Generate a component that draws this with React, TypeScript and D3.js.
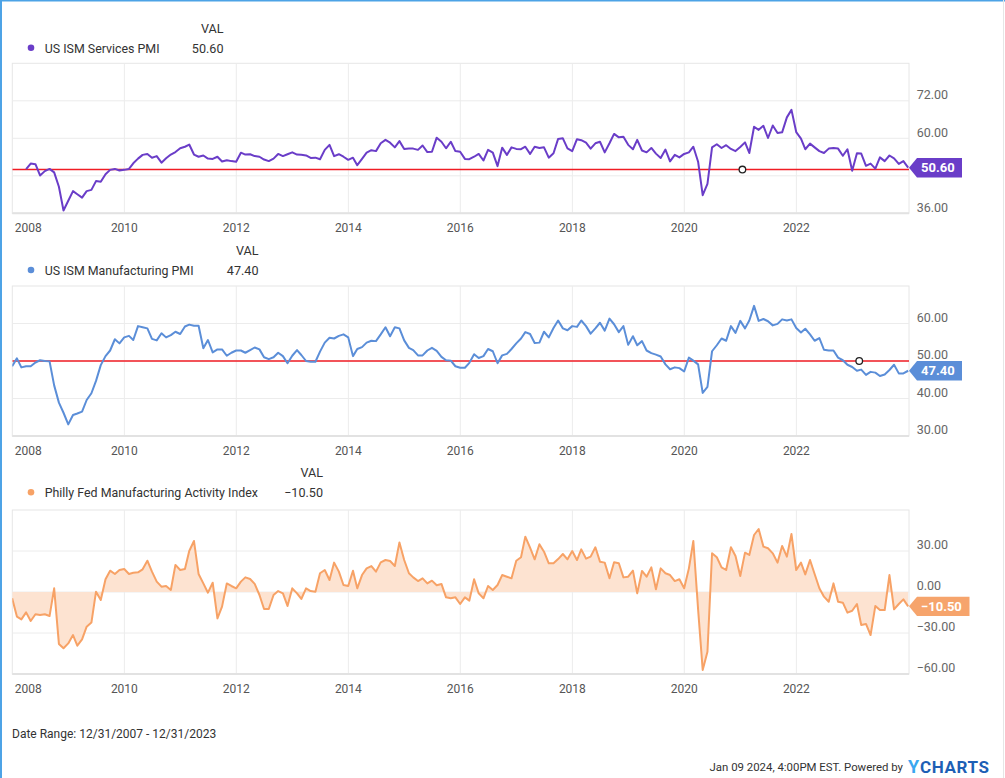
import React from 'react';
import * as d3 from 'd3';

// ---------- DATA ----------
// Monthly values, each dated at month end. Index 0 of manufacturing/philly = Dec 2007.
// Services series begins Mar 2008.
const servicesStartMonth = 3; // months after Dec 2007
const servicesPMI = [
  50.1, 51.9, 51.7, 48.1, 49.5, 50.2, 49.1, 44.5, 36.9, 40.0,
  43.1, 42.1, 41.0, 43.1, 43.5, 46.3, 46.1, 48.5, 49.9, 50.2, 49.7, 49.9,
  50.2, 52.0, 53.5, 54.7, 55.0, 53.8, 54.3, 52.2, 53.6, 54.8, 55.6, 56.8,
  57.3, 58.0, 54.8, 54.1, 54.5, 53.5, 53.4, 54.1, 52.6, 53.0, 52.7, 52.5,
  55.4, 54.8, 54.9, 54.3, 54.1, 53.2, 52.7, 53.5, 55.0, 54.3, 54.9, 55.5,
  54.8, 54.7, 54.5, 53.7, 53.8, 53.3, 56.3, 57.9, 54.3, 54.9, 54.1, 53.1,
  53.8, 51.4, 53.4, 55.4, 56.2, 55.9, 58.4, 59.5, 58.6, 57.1, 59.1, 56.6,
  56.7, 56.7, 56.3, 57.7, 55.6, 55.7, 60.2, 58.9, 56.8, 58.9, 55.9, 55.7,
  53.4, 53.3, 54.1, 55.0, 52.9, 56.3, 55.4, 51.1, 57.0, 54.7, 57.1, 56.6,
  56.5, 57.3, 55.0, 57.3, 56.9, 57.1, 53.8, 55.2, 59.8, 60.0, 56.8, 55.9,
  59.7, 59.4, 58.6, 56.7, 58.4, 58.9, 55.5, 58.4, 61.4, 60.3, 60.5, 57.9,
  56.5, 59.5, 56.1, 55.5, 56.9, 55.1, 53.7, 56.4, 52.6, 54.7, 53.9, 55.0,
  55.5, 57.3, 52.5, 41.8, 45.4, 57.1, 58.1, 56.9, 57.8, 56.6, 55.9, 57.2,
  58.7, 55.3, 63.7, 62.7, 64.0, 60.1, 64.1, 61.7, 61.9, 66.7, 69.1, 62.0,
  59.9, 56.5, 58.3, 57.1, 55.9, 55.3, 56.7, 56.9, 56.7, 54.4, 56.5, 49.6,
  55.2, 55.1, 51.2, 51.9, 50.3, 53.9, 52.7, 54.5, 53.6, 51.8, 52.7, 50.6,
];

const manufacturingPMI = [
  48.6,
  50.7, 48.3, 48.6, 48.6, 49.6, 50.2, 50.0, 49.9, 43.5, 38.9, 36.2, 33.1,
  35.6, 36.0, 36.5, 39.6, 41.4, 44.7, 48.9, 51.3, 52.8, 55.8, 54.7, 56.3,
  56.7, 55.6, 59.3, 59.0, 58.7, 55.9, 55.5, 57.4, 56.3, 56.9, 57.8, 57.2,
  59.2, 59.7, 59.4, 59.4, 53.4, 55.6, 52.3, 53.1, 53.1, 51.4, 52.2, 52.8,
  52.8, 52.2, 52.9, 53.6, 53.1, 51.0, 50.5, 51.0, 52.2, 51.3, 49.4, 51.4,
  52.9, 51.6, 50.0, 49.8, 49.8, 52.5, 54.9, 56.2, 56.0, 56.7, 57.1, 56.3,
  51.3, 53.2, 53.7, 54.9, 55.4, 55.3, 57.1, 59.0, 56.6, 59.0, 58.7, 55.5,
  53.5, 52.9, 51.5, 51.5, 52.8, 53.5, 52.7, 51.1, 50.2, 50.1, 48.6, 48.2,
  48.2, 49.5, 51.8, 50.8, 51.3, 53.2, 52.6, 49.4, 51.5, 51.9, 53.2, 54.7,
  56.0, 57.7, 57.2, 54.8, 54.9, 57.8, 56.3, 58.8, 60.8, 58.7, 58.2, 59.3,
  59.1, 60.8, 59.3, 57.3, 58.7, 60.2, 58.1, 61.3, 59.8, 57.7, 59.3, 54.3,
  56.6, 54.2, 55.3, 52.8, 52.1, 51.7, 51.2, 49.1, 47.8, 48.3, 48.1, 47.2,
  50.9, 50.1, 49.1, 41.5, 43.1, 52.6, 54.2, 56.0, 55.4, 59.3, 57.5, 60.7,
  58.7, 60.8, 64.7, 60.7, 61.2, 60.6, 59.5, 59.9, 61.1, 60.8, 61.1, 58.8,
  57.6, 58.6, 57.1, 55.4, 56.1, 53.0, 52.8, 52.8, 50.9, 50.2, 49.0, 48.4,
  47.4, 47.7, 46.3, 47.1, 46.9, 46.0, 46.4, 47.6, 49.0, 46.7, 46.7, 47.4,
];

const phillyFed = [
  -4.6,
  -18.0, -20.0, -14.9, -21.2, -16.3, -16.8, -16.3, -17.6, 2.7, -38.0, -41.2, -37.6,
  -31.5, -39.3, -34.6, -25.4, -22.4, 0.2, -5.9, 9.3, 15.6, 13.2, 16.1, 16.8,
  13.2, 14.1, 14.4, 16.6, 22.9, 14.9, 7.6, 3.9, 4.4, 1.5, 19.8, 16.1,
  16.8, 30.0, 37.3, 13.2, 6.3, -0.5, 6.8, -19.3, -10.7, 6.3, 4.4, 2.7,
  7.6, 10.7, 9.5, 5.9, -2.2, -12.4, -12.4, -2.2, 0.7, -1.0, -10.2, 2.7,
  -1.0, -5.1, 2.7, 0.7, 0.2, 13.7, 16.1, 8.8, 21.5, 14.9, 5.1, 4.4,
  15.6, 2.7, 12.4, 17.3, 19.0, 14.9, 21.7, 23.4, 22.7, 19.0, 36.3, 23.4,
  13.7, 10.7, 8.0, 10.0, 6.3, 8.3, 4.9, 5.9, -3.9, -4.6, -3.9, -8.8,
  -3.9, -6.3, 9.3, -1.0, -4.6, 4.4, 1.5, 5.1, 12.4, 11.2, 10.0, 22.9,
  25.4, 40.5, 32.4, 23.9, 34.9, 29.5, 21.0, 21.0, 24.1, 27.8, 23.9, 30.0,
  23.4, 31.2, 24.4, 25.9, 32.7, 22.2, 21.5, 10.0, 21.7, 21.0, 10.7, 11.2,
  15.6, -1.0, 15.4, 11.2, 18.0, 2.0, 17.3, 13.7, 12.4, 8.0, 9.3, 2.7,
  17.3, 37.3, -12.7, -57.0, -43.7, 28.3, 25.4, 18.0, 16.1, 32.7, 26.3, 11.7,
  28.8, 27.1, 41.7, 46.1, 33.2, 32.0, 28.3, 21.5, 33.7, 25.9, 42.4, 16.1,
  21.5, 12.9, 23.4, 13.2, 2.7, -3.4, -7.1, 6.3, -7.1, -7.8, -15.1, -13.7,
  -8.8, -24.1, -23.4, -31.5, -10.2, -13.2, -13.2, 12.4, -12.7, -8.8, -5.4, -10.5,
];

const yearTicks = [2008, 2010, 2012, 2014, 2016, 2018, 2020, 2022];
const servicesTicks = [36, 48, 60, 72];
const manufacturingTicks = [30, 40, 50, 60];
const phillyTicks = [-60, -30, 0, 30];
const servicesMarkerDate = '2021-01-14';
const manufacturingMarkerDate = '2023-02-15';

// ---------- LAYOUT ----------
const W = 1005;
const H = 778;
const PL = 12.3;
const PR = 909;
const FONT = 'Roboto, "Noto Sans", sans-serif';

const monthEnd = (k: number) => new Date(2008, k, 0);

const x = d3
  .scaleTime()
  .domain([new Date(2008, 0, 1), new Date(2024, 0, 1)])
  .range([PL, 908.3]);

type Panel = {
  name: string;
  values: number[];
  offset: number;
  color: string;
  tagColor: string;
  top: number;
  bottom: number;
  domain: [number, number];
  ticks: number[];
  ref?: number;
  marker?: string;
  area?: boolean;
  legendBase: number;
  valX: number;
};

const panels: Panel[] = [
  {
    name: 'US ISM Services PMI',
    values: servicesPMI,
    offset: servicesStartMonth,
    color: '#6a3dc8',
    tagColor: '#6a3dc8',
    top: 63.3,
    bottom: 213.3,
    domain: [36, 84],
    ticks: servicesTicks,
    ref: 50,
    marker: servicesMarkerDate,
    legendBase: 52.5,
    valX: 223.5,
  },
  {
    name: 'US ISM Manufacturing PMI',
    values: manufacturingPMI,
    offset: 0,
    color: '#5b8ed8',
    tagColor: '#5b8ed8',
    top: 286,
    bottom: 436,
    domain: [30, 70],
    ticks: manufacturingTicks,
    ref: 50,
    marker: manufacturingMarkerDate,
    legendBase: 274.8,
    valX: 258.5,
  },
  {
    name: 'Philly Fed Manufacturing Activity Index',
    values: phillyFed,
    offset: 0,
    color: '#f7a266',
    tagColor: '#f6a46c',
    top: 510,
    bottom: 674,
    domain: [-60, 60],
    ticks: phillyTicks,
    area: true,
    legendBase: 497,
    valX: 323,
  },
];

const fmt = d3.format('.2f');

function PanelView({ p }: { p: Panel }) {
  const y = d3.scaleLinear().domain(p.domain).range([p.bottom, p.top]);
  const pts = p.values.map((v, i) => ({ d: monthEnd(i + p.offset), v }));
  const line = d3
    .line<{ d: Date; v: number }>()
    .x((e) => x(e.d))
    .y((e) => y(e.v));
  const area = d3
    .area<{ d: Date; v: number }>()
    .x((e) => x(e.d))
    .y0(y(0))
    .y1((e) => y(e.v));
  const last = p.values[p.values.length - 1];
  const ty = y(last);
  const label = fmt(last);
  const tagRight = label.length > 5 ? 969.5 : 962;
  const tagPts = [
    [909, ty],
    [917, ty - 9.7],
    [tagRight, ty - 9.7],
    [tagRight, ty + 9.7],
    [917, ty + 9.7],
  ]
    .map((q) => q.join(','))
    .join(' ');
  const clipId = `clip-${Math.round(p.top)}`;
  return (
    <g>
      <defs>
        <clipPath id={clipId}>
          <rect x={PL} y={p.top} width={PR - PL} height={p.bottom - p.top} />
        </clipPath>
      </defs>
      {/* legend */}
      <text x={p.valX} y={p.legendBase - 19.8} textAnchor="end" fontSize={12.6} fill="#333" fontFamily={FONT}>
        VAL
      </text>
      <circle cx={31} cy={p.legendBase - 4.8} r={3.3} fill={p.color} />
      <text x={44.7} y={p.legendBase} fontSize={12.4} fill="#333" fontFamily={FONT}>
        {p.name}
      </text>
      <text x={p.valX} y={p.legendBase} textAnchor="end" fontSize={12.6} fill="#333" fontFamily={FONT}>
        {label}
      </text>
      {/* plot background & grid */}
      <rect x={PL} y={p.top} width={PR - PL} height={p.bottom - p.top} fill="#fff" stroke="#e6e6e6" strokeWidth={1} />
      {p.ticks.map((t) => (
        <line key={`h${t}`} x1={PL} x2={PR} y1={y(t)} y2={y(t)} stroke="#ececec" strokeWidth={1} />
      ))}
      {yearTicks.slice(1).map((yr) => (
        <line
          key={`v${yr}`}
          x1={x(new Date(yr, 0, 1))}
          x2={x(new Date(yr, 0, 1))}
          y1={p.top}
          y2={p.bottom}
          stroke="#ececec"
          strokeWidth={1}
        />
      ))}
      <line x1={PL} x2={PR} y1={p.bottom} y2={p.bottom} stroke="#e2e2e2" strokeWidth={2} />
      {/* series */}
      <g clipPath={`url(#${clipId})`}>
        {p.area && <path d={area(pts) || ''} fill="#fde3d1" />}
        {p.ref !== undefined && (
          <line x1={PL} x2={PR} y1={y(p.ref)} y2={y(p.ref)} stroke="#f01c24" strokeWidth={1.6} />
        )}
        <path d={line(pts) || ''} fill="none" stroke={p.color} strokeWidth={2} strokeLinejoin="round" />
      </g>
      {p.marker && p.ref !== undefined && (
        <circle cx={x(new Date(p.marker))} cy={y(p.ref)} r={3.3} fill="#fff" stroke="#222" strokeWidth={1.3} />
      )}
      {/* y tick labels */}
      {p.ticks
        .filter((t) => Math.abs(y(t) - 6.5 - ty) > 12)
        .map((t) => (
          <text key={`yl${t}`} x={916.7} y={y(t) - 1.8} fontSize={12.5} fill="#666" fontFamily={FONT}>
            {fmt(t)}
          </text>
        ))}
      {/* value tag */}
      <polygon points={tagPts} fill={p.tagColor} />
      <text x={921} y={ty + 4.6} fontSize={13} fontWeight="bold" fill="#fff" fontFamily={FONT}>
        {label}
      </text>
      {/* x tick labels */}
      {yearTicks.map((yr) => {
        const xx = x(new Date(yr, 0, 1));
        const first = xx - 14 < PL;
        return (
          <text
            key={`xl${yr}`}
            x={first ? PL + 2.5 : xx}
            y={p.bottom + 18.5}
            textAnchor={first ? 'start' : 'middle'}
            fontSize={12}
            fill="#555"
            fontFamily={FONT}
          >
            {yr}
          </text>
        );
      })}
    </g>
  );
}

export default function App() {
  return (
    <svg
      width={W}
      height={H}
      viewBox={`0 0 ${W} ${H}`}
      style={{ position: 'absolute', left: 0, top: 0, background: '#fff' }}
    >
      <rect x={0} y={0} width={W} height={H} fill="#fff" />
      {panels.map((p) => (
        <PanelView key={p.name} p={p} />
      ))}
      <text x={12} y={738} fontSize={12} fill="#333" fontFamily={FONT}>
        Date Range: 12/31/2007 - 12/31/2023
      </text>
      <text x={903} y={771} textAnchor="end" fontSize={11.4} fill="#333" fontFamily={FONT}>
        Jan 09 2024, 4:00PM EST. Powered by
      </text>
      <text x={908} y={773} fontSize={18} fontWeight="bold" fontFamily={FONT} fill="#3aa7f0">
        Y
      </text>
      <text x={920} y={773} fontSize={17} fontWeight="bold" fontFamily={FONT} fill="#1d5fb5" letterSpacing={0.6}>
        CHARTS
      </text>
      {/* frame */}
      <rect x={0} y={0} width={2} height={H} fill="#4da3e6" />
      <rect x={0} y={0} width={W} height={1.5} fill="#4da3e6" />
      <line x1={1003.5} x2={1003.5} y1={0} y2={H} stroke="#e6e6e6" strokeWidth={1} />
    </svg>
  );
}
